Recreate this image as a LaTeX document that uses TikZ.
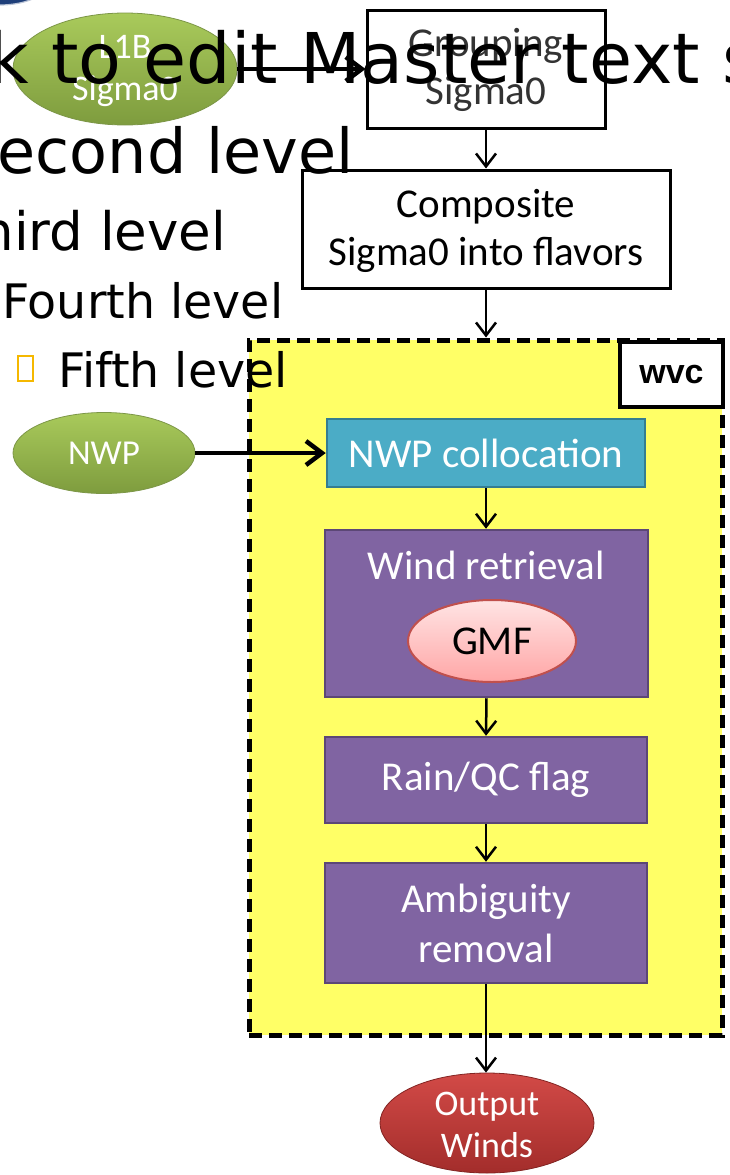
\documentclass[tikz,border=0pt]{standalone}
\usepackage{fontspec}
\setmainfont{Carlito}
\newfontfamily\phfont{DejaVu Sans}
\newfontfamily\labfont{Liberation Sans}
\usetikzlibrary{arrows.meta,shapes.geometric}

\definecolor{ygreen}{HTML}{9BBB59}
\definecolor{ygreenlt}{HTML}{A9CA5B}
\definecolor{ygreendk}{HTML}{7E9C3E}
\definecolor{tealfill}{HTML}{4BACC6}
\definecolor{tealedge}{HTML}{357D91}
\definecolor{purpfill}{HTML}{8064A2}
\definecolor{purpedge}{HTML}{5C4776}
\definecolor{redlt}{HTML}{D24A47}
\definecolor{reddk}{HTML}{A32D2B}
\definecolor{pinklt}{HTML}{FFE4E4}
\definecolor{pinkdk}{HTML}{FFA6A6}
\definecolor{pinkedge}{HTML}{C0504D}
\definecolor{zoneyellow}{HTML}{FFFF66}
\definecolor{bulletgold}{HTML}{F5B800}
\definecolor{logoblue}{HTML}{1F3F7A}

\tikzset{
  boxtext/.style={font=\fontsize{41}{48}\selectfont, align=center, inner sep=0pt},
  whitebox/.style={draw=black, line width=3pt, fill=white, inner sep=0pt},
  tealbox/.style={draw=tealedge, line width=2.5pt, fill=tealfill, inner sep=0pt},
  purpbox/.style={draw=purpedge, line width=2.5pt, fill=purpfill, inner sep=0pt},
  greenell/.style={ellipse, draw=ygreen!80!black, line width=0.8pt, top color=ygreenlt, bottom color=ygreendk, inner sep=0pt},
  redell/.style={ellipse, draw=reddk!80!black, line width=0.8pt, top color=redlt, bottom color=reddk, inner sep=0pt},
  pinkell/.style={ellipse, draw=pinkedge, line width=2pt, top color=pinklt, bottom color=pinkdk, inner sep=0pt},
  flow/.style={draw=black, line width=2.5pt, -{Straight Barb[length=13pt,width=20pt]}},
  flowthick/.style={draw=black, line width=4.5pt, -{Straight Barb[length=16pt,width=24pt]}},
  phtext/.style={anchor=base west, inner sep=0pt, text=black},
}

\begin{document}
\begin{tikzpicture}[x=1pt, y=-1pt]
\clip (0,0) rectangle (730,1175);

% corner of the logo
\fill[logoblue] (0,-22) ellipse [x radius=52, y radius=27];
\draw[white!70!logoblue, line width=1.2pt] (0,-22) ellipse [x radius=52, y radius=27];

% dashed processing zone
\node[draw=black, line width=5pt, dash pattern=on 13pt off 7pt, fill=zoneyellow,
      minimum width=473pt, minimum height=695pt, inner sep=0pt] (zone) at (485.5,687.5) {};
\node[draw=black, line width=4pt, fill=white, minimum width=103pt, minimum height=65pt,
      inner sep=0pt, font=\labfont\bfseries\fontsize{34}{40}\selectfont] (wvc) at (671.5,374.5) {wvc};

% inputs
\node[greenell, minimum width=224pt, minimum height=112pt] (l1b) at (125,69) {};
\node[boxtext, text=white, font=\fontsize{36}{42}\selectfont] (l1btxt) at (125,71) {L1B\\Sigma0};
\node[greenell, minimum width=182pt, minimum height=81pt] (nwp) at (104,453) {};
\node[boxtext, text=white, font=\fontsize{35}{40}\selectfont] (nwptxt) at (104,453) {NWP};

% pre-processing boxes
\node[whitebox, minimum width=238pt, minimum height=118pt] (grp) at (486,69) {};
\node[boxtext, text=black!80] (grptxt) at (486,70) {Grouping\\Sigma0};
\node[whitebox, minimum width=368pt, minimum height=118pt] (comp) at (486,229) {};
\node[boxtext, text=black] (comptxt) at (486,231) {Composite\\Sigma0 into flavors};

% wind vector cell processing
\node[tealbox, minimum width=318pt, minimum height=68pt, boxtext, text=white] (nwpc) at (486,453) {NWP collocation};
\node[purpbox, minimum width=323pt, minimum height=167pt] (wind) at (486.5,613.5) {};
\node[boxtext, text=white] (windtxt) at (486,565) {Wind retrieval};
\node[pinkell, minimum width=168pt, minimum height=82pt] (gmf) at (492,641) {};
\node[boxtext, text=black] (gmftxt) at (492,641) {GMF};
\node[purpbox, minimum width=322pt, minimum height=86pt, boxtext, text=white] (rain) at (486,780) {Rain/QC flag};
\node[purpbox, minimum width=322pt, minimum height=120pt, boxtext, text=white, font=\fontsize{41}{50}\selectfont] (amb) at (486,923) {Ambiguity\\removal};

% output
\node[redell, minimum width=214pt, minimum height=100pt] (out) at (487,1123) {};
\node[boxtext, text=white, font=\fontsize{36}{42}\selectfont] (outtxt) at (487,1125) {Output\\Winds};

% connectors
\draw[flowthick] (l1b.east) -- (grp.west);
\draw[flowthick] (nwp.east) -- (nwpc.west);
\draw[flow] (grp.south) -- (comp.north);
\draw[flow] (comp.south) -- (comp.south |- zone.north);
\draw[flow] (nwpc.south) -- (nwpc.south |- wind.north);
\draw[flow] (wind.south) -- (rain.north);
\draw[flow] (rain.south) -- (amb.north);
\draw[flow] (amb.south) -- (amb.south |- out.north);

% master text placeholder lines
\node[phtext, font=\phfont\fontsize{70}{84}\selectfont] (lvla) at (-138,83) {Click to edit Master text styles};
\node[phtext, font=\phfont\fontsize{62}{74}\selectfont] (lvlb) at (-42,173) {Second level};
\node[phtext, font=\phfont\fontsize{53}{64}\selectfont] (lvlc) at (-52,250) {Third level};
\node[phtext, font=\phfont\fontsize{47.5}{56}\selectfont] (lvld) at (2,318) {Fourth level};
\node[phtext, font=\phfont\fontsize{47.5}{56}\selectfont] (lvle) at (58,387) {Fifth level};
\node[draw=bulletgold, line width=1.5pt, minimum width=15pt, minimum height=25pt, inner sep=0pt] (bullet) at (25.5,368.5) {};
\end{tikzpicture}
\end{document}
